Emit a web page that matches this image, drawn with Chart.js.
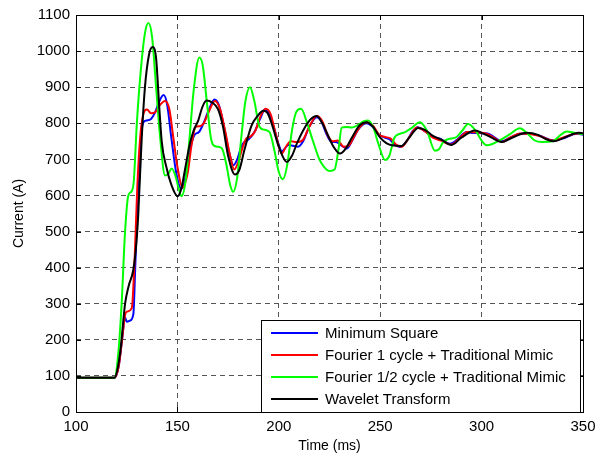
<!DOCTYPE html>
<html>
<head>
<meta charset="utf-8">
<script src="https://cdn.jsdelivr.net/npm/chart.js@4/dist/chart.umd.min.js"></script>
<style>
  html, body { margin: 0; padding: 0; background: #fff; }
  #wrap { width: 602px; height: 456px; }
</style>
</head>
<body>
<div id="wrap"><canvas id="currentChart" width="602" height="456"></canvas></div>
<script>
// Fault current estimated by each method, time in ms, current in A
const seriesNames = [
  "Minimum Square",
  "Fourier 1 cycle + Traditional Mimic",
  "Fourier 1/2 cycle + Traditional Mimic",
  "Wavelet Transform"
];
const seriesColors = ["#0000ff", "#ff0000", "#00ff00", "#000000"];

const xTicks = [100, 150, 200, 250, 300, 350];
const yTicks = [0, 100, 200, 300, 400, 500, 600, 700, 800, 900, 1000, 1100];

const msqTime = [100, 119, 121, 122.5, 124.2, 125, 126.6, 128.3, 129.2, 130.5, 132, 133.5, 135, 137, 139, 141, 143.2, 145, 147, 149.5, 152, 154, 156, 158.5, 160.5, 162.5, 165, 168.3, 170.5, 173, 175.5, 177.6, 179.5, 181.5, 183, 185, 188, 191, 193.2, 195, 197.5, 200, 201.5, 203, 204.6, 207, 209.5, 212, 215, 218.7, 221, 223.5, 226, 228.2, 231, 233.5, 236, 239.5, 243.3, 246, 249, 252.4, 254.5, 257, 259.8, 263, 266, 268.5, 272, 276, 279.5, 284.4, 288, 292.6, 296, 303, 306.5, 310, 314, 318.9, 324, 329, 335, 340, 346.9, 350];
const msqCurrent = [95, 95, 125, 190, 262, 250, 253, 272, 400, 600, 760, 805, 808, 812, 830, 860, 878, 850, 760, 660, 618, 650, 720, 768, 775, 795, 830, 866, 850, 790, 720, 684, 700, 735, 748, 755, 776, 815, 838, 830, 790, 740, 722, 730, 740, 738, 735, 750, 790, 817, 805, 770, 748, 748, 738, 730, 750, 785, 800, 792, 770, 760, 756, 742, 734, 750, 778, 789, 778, 762, 757, 743, 755, 776, 773, 772, 760, 750, 760, 771, 771, 765, 753, 758, 771, 768];

const f1Time = [100, 119, 121, 122.5, 124.2, 125, 127.5, 129, 130.2, 131.6, 133, 135, 137, 139, 141, 143.9, 146, 148, 150, 152.5, 155, 157, 159, 161, 163, 165.5, 168.5, 171, 173.5, 176, 178, 180, 182, 184, 186, 188.5, 191, 193.5, 196, 198.5, 201.4, 203.5, 206, 209, 212, 215, 218.7, 221.5, 224, 226.5, 229, 232, 234.5, 237, 240, 243.3, 246.5, 249.5, 252.4, 255, 258, 260.5, 264, 268, 272, 276, 280, 285, 289, 293, 297, 303, 306.5, 310, 314, 319, 324, 329, 335, 340, 347, 350];
const f1Current = [95, 95, 125, 190, 268, 278, 288, 436, 620, 757, 820, 838, 828, 830, 848, 862, 840, 760, 680, 622, 660, 740, 790, 792, 800, 832, 862, 840, 780, 710, 672, 692, 730, 758, 763, 780, 820, 840, 825, 770, 716, 735, 750, 748, 755, 790, 820, 805, 768, 750, 752, 735, 738, 762, 790, 803, 793, 768, 762, 758, 740, 735, 758, 788, 778, 760, 752, 741, 758, 776, 775, 770, 758, 748, 760, 772, 770, 764, 752, 760, 772, 770];

const fHalfTime = [100, 119, 120.9, 122.5, 124.2, 125.8, 127.5, 128.5, 130, 132, 134, 135.7, 137.5, 139.5, 141.5, 143.9, 145.5, 147.2, 149, 150.6, 152, 154, 156, 158, 160.8, 162.5, 164.5, 166.5, 168, 170, 172, 174, 176, 177.5, 179.5, 181.5, 183.5, 185.8, 188, 190.5, 193, 195.5, 198, 200, 202, 204, 206.5, 208.5, 211, 214, 217, 220, 222.5, 225, 227.5, 229.5, 231, 233.5, 236, 239, 242, 244, 246.5, 249, 252.4, 254.5, 257, 259.8, 262, 265, 269.6, 273, 277, 279, 281, 283.5, 287.7, 290.5, 293.4, 297, 300, 302.5, 305, 309, 314, 318.9, 322, 326, 330, 335, 339, 342, 345.5, 348.5, 350];
const fHalfCurrent = [95, 95, 165, 300, 500, 600, 612, 640, 800, 950, 1050, 1078, 1040, 900, 760, 655, 660, 675, 655, 620, 598, 640, 760, 890, 982, 960, 860, 760, 738, 735, 730, 690, 630, 610, 650, 760, 860, 900, 860, 790, 782, 775, 720, 665, 645, 680, 780, 830, 840, 800, 748, 700, 678, 668, 672, 730, 788, 790, 788, 795, 806, 808, 790, 745, 698, 710, 760, 771, 775, 785, 803, 780, 724, 728, 748, 756, 762, 780, 798, 780, 752, 739, 742, 753, 770, 786, 775, 753, 748, 750, 768, 777, 774, 771, 770];

const wavTime = [100, 119, 120.5, 122, 124.2, 126, 128.2, 129.5, 130.7, 132.4, 134, 136, 137.8, 139.5, 141, 142.3, 144.5, 147, 150.1, 152, 154, 156, 158, 160.3, 162.3, 164.4, 167, 170, 172.5, 175, 178.4, 180.5, 183, 186.6, 189.5, 192.3, 194.5, 197, 200, 203.9, 206.5, 209, 212, 215.5, 218.7, 221.5, 224, 227, 230.2, 233, 236, 240, 243.3, 246.5, 250, 253, 255.7, 260.6, 264, 268.8, 272, 276, 280, 285.2, 290, 296.7, 301, 305, 309.9, 315, 322.2, 327.8, 331, 335.4, 340, 344, 347.7, 350];
const wavCurrent = [95, 95, 120, 175, 300, 350, 392, 450, 547, 757, 900, 990, 1011, 980, 850, 748, 680, 630, 598, 620, 680, 740, 780, 808, 845, 863, 858, 839, 790, 710, 658, 670, 725, 794, 820, 835, 828, 790, 735, 693, 710, 745, 780, 810, 820, 800, 770, 735, 716, 730, 760, 795, 803, 790, 760, 745, 739, 737, 758, 787, 782, 765, 755, 740, 760, 780, 771, 760, 748, 760, 774, 768, 758, 750, 758, 768, 774, 772];

function toPoints(times, values) {
  return times.map((t, i) => ({ x: t, y: values[i] }));
}

const seriesData = [
  toPoints(msqTime, msqCurrent),
  toPoints(f1Time, f1Current),
  toPoints(fHalfTime, fHalfCurrent),
  toPoints(wavTime, wavCurrent)
];

// Box around the plot, inward tick marks and the legend inside the lower right
const framePlugin = {
  id: "frameAndLegend",
  afterDraw(chart) {
    const ctx = chart.ctx;
    const area = chart.chartArea;
    const xs = chart.scales.x;
    const ys = chart.scales.y;
    ctx.save();
    ctx.strokeStyle = "#000";
    ctx.lineWidth = 1;
    ctx.beginPath();
    xTicks.forEach(v => {
      const px = Math.round(xs.getPixelForValue(v)) + 0.5;
      ctx.moveTo(px, area.bottom); ctx.lineTo(px, area.bottom - 5);
      ctx.moveTo(px, area.top); ctx.lineTo(px, area.top + 5);
    });
    yTicks.forEach(v => {
      const py = Math.round(ys.getPixelForValue(v)) + 0.5;
      ctx.moveTo(area.left, py); ctx.lineTo(area.left + 5, py);
      ctx.moveTo(area.right, py); ctx.lineTo(area.right - 5, py);
    });
    ctx.stroke();
    ctx.strokeRect(Math.round(area.left) + 0.5, Math.round(area.top) + 0.5,
      Math.round(area.right - area.left), Math.round(area.bottom - area.top));

    // legend
    ctx.font = "15px 'Liberation Sans', Arial, sans-serif";
    const textW = Math.max(...seriesNames.map(n => ctx.measureText(n).width));
    const boxW = Math.round(10 + 47 + 7 + textW + 14);
    const boxH = 92;
    const right = Math.round(area.right) - 3;
    const bottom = Math.round(area.bottom);
    const left = right - boxW;
    const top = bottom - boxH;
    ctx.fillStyle = "#fff";
    ctx.fillRect(left, top, boxW, boxH);
    ctx.strokeRect(left + 0.5, top + 0.5, boxW, boxH);
    ctx.textBaseline = "middle";
    ctx.textAlign = "left";
    seriesNames.forEach((name, i) => {
      const cy = top + 13 + i * 22;
      ctx.strokeStyle = seriesColors[i];
      ctx.lineWidth = 2;
      ctx.beginPath();
      ctx.moveTo(left + 10, cy);
      ctx.lineTo(left + 57, cy);
      ctx.stroke();
      ctx.fillStyle = "#000";
      ctx.fillText(name, left + 64, cy + 1);
    });
    ctx.restore();
  }
};

const gridStyle = {
  color: "#555",
  lineWidth: 1,
  drawTicks: false
};

const ctx = document.getElementById("currentChart").getContext("2d");
const currentChart = new Chart(ctx, {
  type: "line",
  data: {
    datasets: seriesNames.map((name, i) => ({
      label: name,
      data: seriesData[i],
      borderColor: seriesColors[i],
      backgroundColor: seriesColors[i],
      borderWidth: 2,
      pointRadius: 0,
      fill: false,
      cubicInterpolationMode: "monotone",
      order: 4 - i
    }))
  },
  options: {
    responsive: false,
    animation: false,
    layout: { padding: { top: 12, right: 19, left: 0, bottom: 0 } },
    plugins: {
      legend: { display: false },
      tooltip: { enabled: false }
    },
    scales: {
      x: {
        type: "linear",
        min: 100,
        max: 350,
        afterBuildTicks: s => { s.ticks = xTicks.map(v => ({ value: v })); },
        afterFit: s => { s.height = 44; },
        grid: gridStyle,
        border: { display: false, dash: [5, 4] },
        ticks: {
          color: "#000",
          padding: 6,
          maxRotation: 0,
          callback: v => String(v),
          font: { family: "'Liberation Sans', Arial, sans-serif", size: 15 }
        },
        title: {
          display: true,
          text: "Time (ms)",
          color: "#000",
          padding: { top: 0, bottom: 1 },
          font: { family: "'Liberation Sans', Arial, sans-serif", size: 14 }
        }
      },
      y: {
        min: 0,
        max: 1100,
        afterBuildTicks: s => { s.ticks = yTicks.map(v => ({ value: v })); },
        afterFit: s => { s.width = 76; },
        grid: gridStyle,
        border: { display: false, dash: [5, 4] },
        ticks: {
          color: "#000",
          padding: 6,
          callback: v => String(v),
          font: { family: "'Liberation Sans', Arial, sans-serif", size: 15 }
        },
        title: {
          display: true,
          text: "Current (A)",
          color: "#000",
          padding: { top: 11, bottom: 0 },
          font: { family: "'Liberation Sans', Arial, sans-serif", size: 14 }
        }
      }
    }
  },
  plugins: [framePlugin]
});
</script>
</body>
</html>
